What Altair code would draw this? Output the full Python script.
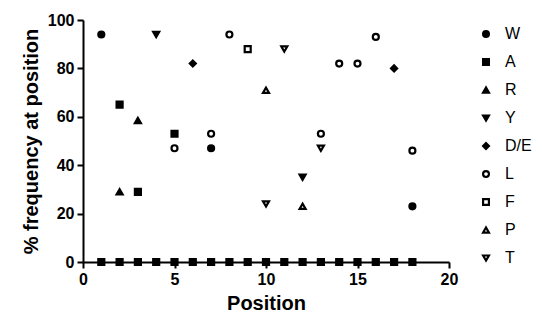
import altair as alt
import pandas as pd

series = ["W", "A", "R", "Y", "D/E", "L", "F", "P", "T"]
shapes = ["circle", "square", "triangle-up", "triangle-down", "diamond",
          "circle", "square", "triangle-up", "triangle-down"]
fills = ["black", "black", "black", "black", "black", "white", "white", "white", "white"]

w_x = [1, 7, 18]
w_y = [94, 47, 23]
a_x = [2, 3, 5]
a_y = [65, 29, 53]
zero_x = list(range(1, 19))
r_x = [2, 3]
r_y = [29, 58.5]
y_x = [4, 12]
y_y = [94, 35]
de_x = [6, 17]
de_y = [82, 80]
l_x = [5, 7, 8, 13, 14, 15, 16, 18]
l_y = [47, 53, 94, 53, 82, 82, 93, 46]
f_x = [9]
f_y = [88]
p_x = [10, 12]
p_y = [71, 23]
t_x = [10, 11, 13]
t_y = [24, 88, 47]

groups = [("W", w_x, w_y), ("R", r_x, r_y), ("Y", y_x, y_y), ("D/E", de_x, de_y),
          ("L", l_x, l_y), ("F", f_x, f_y), ("P", p_x, p_y), ("T", t_x, t_y),
          ("A", a_x, a_y), ("A", zero_x, [0] * len(zero_x))]
rows = []
for name, xs, ys in groups:
    for xv, yv in zip(xs, ys):
        rows.append({"series": name, "pos": xv, "freq": yv})
df = pd.DataFrame(rows)

FONT = "Liberation Sans"
leg = alt.Legend(title=None, orient="none", legendX=395, legendY=6,
                 labelFont=FONT, labelFontSize=16, labelColor="black",
                 symbolSize=34, symbolStrokeWidth=2.2, rowPadding=12,
                 labelOffset=11)

chart = alt.Chart(df).mark_point(filled=True, size=36, strokeWidth=2.2, opacity=1).encode(
    x=alt.X("pos:Q", scale=alt.Scale(domain=[0, 20], nice=False),
            axis=alt.Axis(values=[0, 5, 10, 15, 20], title="Position", labelFlush=False)),
    y=alt.Y("freq:Q", scale=alt.Scale(domain=[0, 100], nice=False),
            axis=alt.Axis(values=[0, 20, 40, 60, 80, 100], title="% frequency at position",
                          labelFlush=False)),
    shape=alt.Shape("series:N", scale=alt.Scale(domain=series, range=shapes), legend=leg),
    fill=alt.Fill("series:N", scale=alt.Scale(domain=series, range=fills), legend=leg),
    stroke=alt.Stroke("series:N", scale=alt.Scale(domain=series, range=["black"] * 9), legend=leg),
).properties(
    width=366, height=242,
    autosize=alt.AutoSizeParams(type="none"),
    padding={"left": 75, "top": 12, "right": 85, "bottom": 54},
).configure_view(stroke=None).configure_axis(
    grid=False, domainColor="black", domainWidth=2, tickColor="black", tickWidth=2,
    tickSize=6, labelFont=FONT, labelFontSize=16, labelFontWeight="bold", labelColor="black",
    titleFont=FONT, titleFontSize=20, titleFontWeight="bold", titleColor="black",
    labelPadding=3, titlePadding=6,
)

chart.save("out.html", embed_options={"renderer": "svg", "actions": False})
